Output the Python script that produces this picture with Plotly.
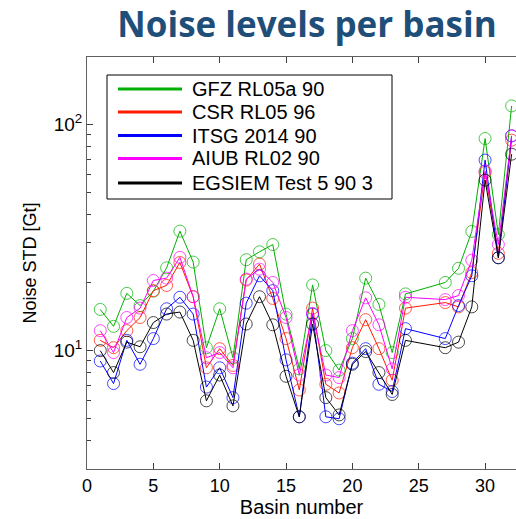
import plotly.graph_objects as go
import math

# ---- data ----
basins = [1, 2, 3, 4, 5, 6, 7, 8, 9, 10, 11, 12, 13, 14, 15, 16, 17, 18, 19, 20,
          21, 22, 23, 24, 27, 28, 29, 30, 31, 32]

gfz_rl05a_90 = [15.2, 12.8, 17.9, 15.8, 18.3, 23.2, 33.7, 24.6, 10.3, 15.3,
                9.3, 25.2, 27.3, 29.4, 14.5, 8.3, 19.5, 10.0, 8.2, 11.3,
                20.9, 16.0, 9.8, 17.8, 20.0, 23.1, 33.6, 86.4, 32.5, 120.4]
csr_rl05_96 = [11.1, 10.3, 12.25, 14.0, 18.4, 19.4, 24.5, 17.3, 8.4, 10.2,
               8.6, 20.5, 24.1, 17.0, 11.3, 6.7, 15.4, 7.1, 6.5, 10.3,
               13.7, 10.2, 7.4, 15.4, 16.3, 15.6, 22.1, 61.2, 26.9, 85.0]
itsg_2014_90 = [9.0, 7.15, 11.1, 8.7, 11.3, 15.3, 17.2, 14.5, 6.9, 8.4,
                6.2, 16.2, 21.4, 18.4, 9.1, 5.1, 14.5, 5.1, 5.0, 8.8,
                10.2, 7.1, 6.6, 12.5, 11.3, 15.8, 21.4, 69.4, 25.7, 88.8]
aiub_rl02_90 = [12.25, 9.8, 14.0, 15.4, 20.4, 20.9, 25.8, 17.3, 9.3, 9.8,
                8.4, 20.7, 22.9, 20.0, 14.0, 7.8, 14.6, 7.8, 7.6, 12.25,
                17.1, 13.0, 8.3, 17.2, 16.8, 17.5, 25.1, 62.2, 29.4, 88.8]
egsiem_test_5_90_3 = [10.0, 8.0, 10.9, 10.4, 13.3, 14.5, 14.8, 11.1, 6.0, 7.8,
                      5.7, 13.1, 17.3, 13.0, 7.7, 5.1, 13.1, 6.2, 5.2, 8.7,
                      9.9, 8.0, 6.4, 11.1, 10.3, 10.9, 15.6, 56.6, 25.7, 73.7]

series_names = ["GFZ RL05a 90", "CSR RL05 96", "ITSG 2014 90", "AIUB RL02 90", "EGSIEM Test 5 90 3"]
series_values = [gfz_rl05a_90, csr_rl05_96, itsg_2014_90, aiub_rl02_90, egsiem_test_5_90_3]
series_colors = ["#00B000", "#FF1A00", "#0000FF", "#FF00FF", "#000000"]

x_ticks = [0, 5, 10, 15, 20, 25, 30]
y_ticks = [10, 100]
y_tick_labels = ["10<sup>1</sup>", "10<sup>2</sup>"]
y_minor = [3, 4, 5, 6, 7, 8, 9, 20, 30, 40, 50, 60, 70, 80, 90]

# ---- layout geometry ----
W, H = 516, 519
L, R, T, B = 87, 0, 57, 50
PW, PH = W - L - R, H - T - B

def px(xp):
    return (xp - L) / PW

def py(yp):
    return (H - B - yp) / PH

fig = go.Figure()
for name, vals, col in zip(series_names, series_values, series_colors):
    fig.add_trace(go.Scatter(
        x=basins, y=vals, mode="lines+markers", name=name,
        line=dict(color=col, width=1),
        marker=dict(symbol="circle-open", size=12, color=col,
                    line=dict(width=1, color=col), opacity=0.7),
        showlegend=False,
    ))

# manual legend (box, line samples, text)
shapes = [dict(type="rect", xref="paper", yref="paper",
               x0=px(107), x1=px(392), y0=py(199), y1=py(75),
               line=dict(color="black", width=1), fillcolor="white", layer="above")]
annotations = []
row_y = [89, 112, 135.5, 158.5, 183]
for name, col, ry in zip(series_names, series_colors, row_y):
    shapes.append(dict(type="line", xref="paper", yref="paper",
                       x0=px(118), x1=px(182), y0=py(ry), y1=py(ry),
                       line=dict(color=col, width=3), layer="above"))
    annotations.append(dict(xref="paper", yref="paper", x=px(190), y=py(ry),
                            text=name, showarrow=False, xanchor="left", yanchor="middle",
                            font=dict(family="Liberation Sans, Arial", size=20, color="black")))

fig.update_layout(
    width=W, height=H,
    margin=dict(l=L, r=R, t=T, b=B, pad=0),
    paper_bgcolor="white", plot_bgcolor="white",
    title=dict(text="<b>Noise levels per basin</b>", xref="container", yref="container",
               x=307 / W, xanchor="center", y=1 - 25 / H, yanchor="middle",
               font=dict(family="Open Sans", size=35, color="#1F4E79")),
    font=dict(family="Liberation Sans, Arial", size=18, color="black"),
    shapes=shapes, annotations=annotations,
    showlegend=False,
)

fig.update_xaxes(
    range=[0, 32.33], tickvals=x_ticks, ticks="inside", ticklen=6,
    tickcolor="#404040", showline=True, linecolor="#606060", linewidth=1,
    mirror="ticks", showgrid=False, zeroline=False,
    title=dict(text="Basin number", font=dict(size=20), standoff=4),
    tickfont=dict(size=18),
)
fig.update_yaxes(
    type="log", range=[math.log10(3), math.log10(198)],
    tickvals=y_ticks, ticktext=y_tick_labels, ticks="inside", ticklen=6,
    tickcolor="#404040", showline=True, linecolor="#606060", linewidth=1,
    mirror=False, showgrid=False, zeroline=False,
    minor=dict(tickvals=y_minor, ticks="inside", ticklen=4, tickcolor="#404040", showgrid=False),
    title=dict(text="Noise STD [Gt]", font=dict(size=18), standoff=12),
    tickfont=dict(size=19),
)

fig.write_html("out.html")
